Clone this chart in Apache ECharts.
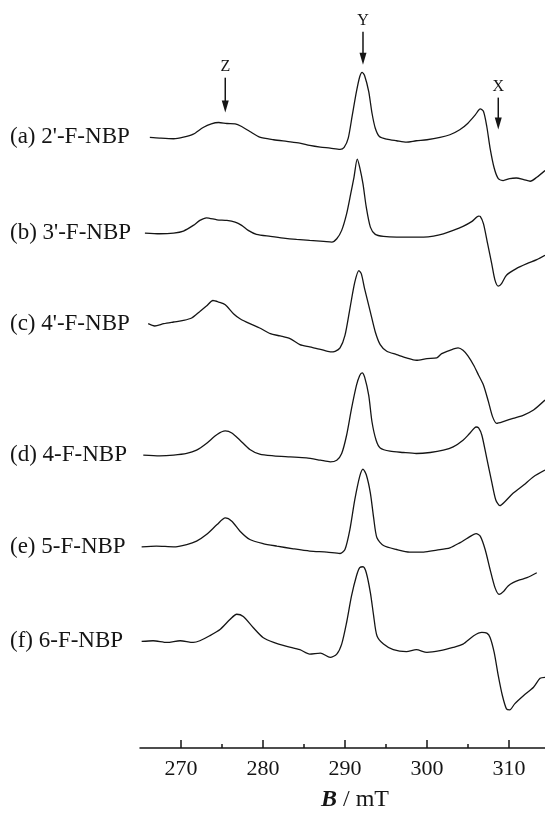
<!DOCTYPE html>
<html>
<head>
<meta charset="utf-8">
<script src="https://cdn.jsdelivr.net/npm/echarts@6/dist/echarts.min.js"></script>
<style>
  html, body { margin: 0; padding: 0; background: #fff; }
  #chart { width: 545px; height: 817px; }
</style>
</head>
<body>
<div id="chart"></div>
<script>
// EPR spectra of fluorinated NBP triplets: [field (mT), signal (arb. units)]
const sampleNames = ["(a) 2'-F-NBP", "(b) 3'-F-NBP", "(c) 4'-F-NBP", "(d) 4-F-NBP", "(e) 5-F-NBP", "(f) 6-F-NBP"];

const spectrumA = [
  [266.2,0],[267.4,-0.7],[269.1,-1.3],[270.3,0.3],[271.5,3.3],[272.7,10],[273.7,13.7],[274.6,15],
  [275.6,14],[276.6,13.7],[277.4,11],[278.4,6],[279.6,0.3],[281.3,-2.3],[282.9,-4],[284.5,-5.7],
  [285.7,-8],[287.0,-9.7],[288.2,-10.7],[289.4,-12],[289.9,-10],[290.4,-0.7],[290.9,22.7],[291.4,46],
  [291.8,61],[292.1,65.3],[292.4,62],[292.9,46],[293.3,24.3],[293.7,9.3],[294.2,1],[295.1,-1.7],
  [296.3,-3.3],[297.5,-4.7],[298.7,-3.3],[300.0,-2.3],[301.6,0],[302.8,2.7],[304.0,7.7],[305.0,14.3],
  [305.9,22.7],[306.5,28.7],[306.9,26],[307.3,11],[307.7,-10.7],[308.2,-30.7],[308.7,-41.3],[309.3,-43.3],
  [310.1,-41.3],[310.9,-40.7],[311.8,-42.3],[312.6,-44],[313.4,-40],[314.4,-33.3]
];

const spectrumB = [
  [265.6,0],[267.4,-0.7],[269.1,0],[270.3,2],[271.5,7.7],[272.3,12.7],[273.1,15.3],[274.4,13.3],
  [275.6,12.7],[276.6,11],[277.4,7.7],[278.2,2.7],[279.2,-1.3],[280.9,-3.3],[282.5,-5],[284.1,-6.3],
  [285.7,-7.3],[287.4,-8.3],[288.4,-9],[289.0,-5.7],[289.6,2.7],[290.2,19.3],[290.7,39.3],[291.1,56],
  [291.5,74.3],[291.8,66],[292.2,49.3],[292.6,26],[293.1,6],[293.7,-1.3],[294.7,-3.3],[296.3,-4],
  [297.9,-4],[299.6,-4],[300.8,-3],[302.0,-0.7],[303.2,2.7],[304.4,6.7],[305.5,11.7],[306.3,17],
  [306.5,16.7],[306.9,9.3],[307.4,-10.7],[307.9,-30.7],[308.3,-47.3],[308.7,-53.3],[309.1,-50.7],
  [309.7,-42.3],[310.9,-35.7],[312.2,-30.7],[313.4,-26.7],[314.4,-22.3]
];

const spectrumC = [
  [266.0,0],[266.8,-2.3],[267.9,0],[269.1,1.7],[270.3,3.3],[271.3,5.7],[272.3,12.3],[273.1,17.7],
  [273.9,23.3],[274.6,21.7],[275.4,19],[276.4,10],[277.2,5],[278.4,0],[279.6,-4.3],[280.9,-10],
  [282.1,-12.3],[283.3,-15],[284.5,-21],[285.7,-23.3],[287.0,-25.7],[288.2,-28.3],[288.8,-27.7],
  [289.4,-24.3],[290.0,-11.7],[290.6,15],[291.2,41.7],[291.7,53.3],[292.0,50],[292.4,35],[293.1,11.7],
  [293.7,-8.3],[294.3,-21],[295.1,-27.7],[296.3,-31],[297.5,-34.3],[298.7,-36.7],[300.0,-35],
  [301.2,-34.3],[301.8,-30],[302.8,-26.7],[303.8,-24.3],[304.4,-26.7],[305.0,-32.3],[305.7,-41.7],
  [306.3,-51.7],[306.9,-61.7],[307.5,-78.3],[308.0,-93.3],[308.5,-100],[309.3,-98.3],[310.5,-95],
  [311.8,-91.7],[313.0,-86.7],[314.4,-76.7]
];

const spectrumD = [
  [265.4,0],[267.4,-0.7],[269.1,0],[270.7,1.7],[271.9,5],[273.1,11.7],[274.4,20.7],[275.4,24.3],
  [276.2,22.3],[277.2,15],[278.4,5.7],[279.6,1],[281.3,-0.7],[283.3,-1.7],[285.3,-2.7],[287.0,-5],
  [288.2,-6.7],[289.0,-5],[289.6,1.7],[290.2,20],[290.8,46.7],[291.4,70],[291.8,80],[292.1,82.7],
  [292.4,78.3],[292.9,60],[293.3,33.3],[293.8,15],[294.3,7.3],[295.5,4],[297.1,2.7],[298.7,1.7],
  [300.4,2.7],[302.0,5],[303.2,8.3],[304.4,15],[305.2,21.7],[306.0,28.3],[306.3,27.3],[306.7,20],
  [307.3,-3.3],[307.9,-26.7],[308.4,-45],[308.9,-50.7],[309.5,-46.7],[310.5,-38.3],[311.8,-30],
  [313.0,-21.7],[314.4,-15]
];

const spectrumE = [
  [265.2,0],[267.0,0.7],[269.1,0],[270.7,2.3],[271.9,5.7],[273.1,12.3],[274.4,22.3],[275.4,29],
  [276.2,25.7],[277.2,15.7],[278.4,7.3],[280.0,3.3],[281.7,0.7],[283.7,-2],[285.7,-4.3],[287.8,-5.3],
  [289.4,-6.7],[290.0,-2.7],[290.6,17.3],[291.2,47.3],[291.8,70.7],[292.2,78],[292.6,72.3],[293.1,54],
  [293.5,29],[293.9,9],[294.7,1.3],[296.3,-2.7],[297.9,-5.3],[299.6,-5.3],[301.2,-3.3],[302.8,-1],
  [304.0,4],[305.0,9],[306.0,13.3],[306.5,10.7],[307.1,-2.7],[307.7,-22.7],[308.3,-41],[308.8,-47.7],
  [309.4,-44.3],[309.9,-39.3],[310.5,-36],[311.3,-33.3],[312.2,-31],[313.4,-26]
];

const spectrumF = [
  [265.2,0],[266.6,0.7],[268.3,-1],[269.9,0.7],[271.5,-1],[272.3,0.7],[273.5,5.7],[274.8,12.3],
  [276.0,22.3],[276.8,27.3],[277.6,25],[278.8,14],[280.0,4],[281.3,-1],[282.9,-5],[284.5,-8.3],
  [285.7,-12.7],[287.0,-11.7],[288.2,-16],[289.0,-12.7],[289.6,-2.7],[290.2,19],[290.8,45.7],
  [291.4,65.7],[291.8,74],[292.2,75],[292.6,69],[293.1,49],[293.5,25.7],[293.9,5.7],[294.7,-2.7],
  [295.9,-8.3],[297.5,-10.3],[298.7,-8.3],[300.0,-11],[301.6,-9.3],[303.2,-6],[304.4,-2.7],
  [305.7,5.7],[306.7,9],[307.3,8.3],[307.7,4],[308.2,-11],[308.7,-34.3],[309.2,-54.3],[309.7,-67.7],
  [310.1,-68.7],[310.7,-62.7],[311.8,-54.3],[313.0,-46],[313.8,-37],[314.4,-36]
];

const spectra = [spectrumA, spectrumB, spectrumC, spectrumD, spectrumE, spectrumF];

// axis ticks (mT)
const majorTicks = [270, 280, 290, 300, 310];
const minorTicks = [275, 285, 295, 305];

// principal-axis resonance markers (mT)
const markerNames = ['Z', 'Y', 'X'];
const markerFields = [275.4, 292.2, 308.7];

// ---- layout (vertical stacking and marker placement, in plot units) ----
const traceOffsets = [613, 517, 426, 294, 202, 107];
const markerTail = [673, 719, 653];
const markerTip = [638, 686, 621];

const FONT = "'Liberation Serif', 'Times New Roman', serif";
const INK = '#151515';

const chart = echarts.init(document.getElementById('chart'), null, { renderer: 'canvas' });

const lineSeries = spectra.map((spec, i) => ({
  type: 'line',
  name: sampleNames[i],
  xAxisIndex: 0,
  yAxisIndex: 0,
  data: spec.map(p => [p[0], p[1] + traceOffsets[i]]),
  symbol: 'none',
  smooth: 0.25,
  lineStyle: { color: INK, width: 1.3 },
  silent: true,
  animation: false
}));

const markerSeries = {
  type: 'custom',
  xAxisIndex: 0,
  yAxisIndex: 0,
  data: markerFields.map((f, i) => [f, markerTail[i], markerTip[i]]),
  silent: true,
  animation: false,
  renderItem(params, api) {
    const x = api.value(0);
    const p0 = api.coord([x, api.value(1)]);
    const p1 = api.coord([x, api.value(2)]);
    const headLen = 12, halfW = 3.5;
    return {
      type: 'group',
      children: [
        { type: 'line', shape: { x1: p0[0], y1: p0[1], x2: p1[0], y2: p1[1] - headLen + 2 },
          style: { stroke: INK, lineWidth: 1.5 } },
        { type: 'polygon', shape: { points: [[p1[0] - halfW, p1[1] - headLen], [p1[0] + halfW, p1[1] - headLen], [p1[0], p1[1]]] },
          style: { fill: INK } },
        { type: 'text', x: p0[0], y: p0[1] - 11,
          style: { text: markerNames[params.dataIndex], font: '16px ' + FONT, fill: INK,
                   align: 'center', verticalAlign: 'middle' } }
      ]
    };
  }
};

chart.setOption({
  backgroundColor: '#fff',
  animation: false,
  grid: { left: 140, right: 0, top: 0, bottom: 66, containLabel: false },
  xAxis: [
    {
      type: 'value', position: 'bottom', min: 265, max: 314.4,
      axisLine: { show: true, lineStyle: { color: INK, width: 1.5 } },
      axisTick: { show: true, inside: true, length: 8, customValues: majorTicks,
                  lineStyle: { color: INK, width: 1.5 } },
      axisLabel: { show: true, customValues: majorTicks, margin: 10,
                   fontFamily: FONT, fontSize: 22, color: INK },
      splitLine: { show: false },
      name: '{b|B} / mT', nameLocation: 'middle', nameGap: 40,
      nameTextStyle: {
        fontFamily: FONT, fontSize: 24, color: INK, padding: [0, 0, 0, 25],
        rich: { b: { fontFamily: FONT, fontSize: 24, fontWeight: 'bold', fontStyle: 'italic', color: INK } }
      }
    },
    {
      type: 'value', position: 'bottom', min: 265, max: 314.4,
      axisLine: { show: false },
      axisTick: { show: true, inside: true, length: 4, customValues: minorTicks,
                  lineStyle: { color: INK, width: 1.5 } },
      axisLabel: { show: false },
      splitLine: { show: false }
    }
  ],
  yAxis: {
    type: 'value', min: 0, max: 751,
    axisLine: { show: false },
    axisTick: { show: false },
    splitLine: { show: false },
    axisLabel: {
      show: true, customValues: traceOffsets, align: 'left', margin: 130,
      fontFamily: FONT, fontSize: 23, color: INK,
      formatter: v => sampleNames[traceOffsets.indexOf(v)] || ''
    }
  },
  series: [...lineSeries, markerSeries]
});
</script>
</body>
</html>
